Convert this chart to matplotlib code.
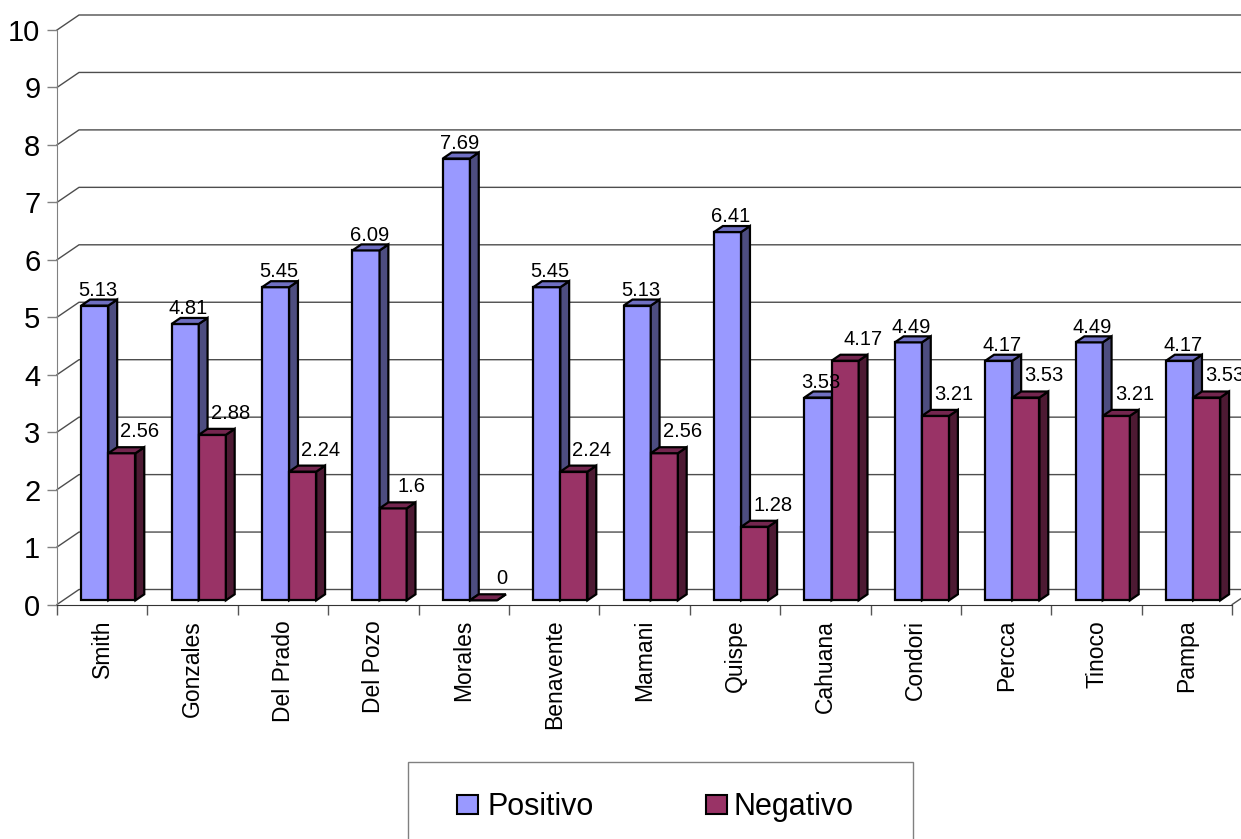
import matplotlib.pyplot as plt
from matplotlib.patches import Polygon, Rectangle

plt.rcParams['font.family'] = ['Liberation Sans', 'DejaVu Sans']

# data
nombres = ['Smith', 'Gonzales', 'Del Prado', 'Del Pozo', 'Morales', 'Benavente',
           'Mamani', 'Quispe', 'Cahuana', 'Condori', 'Percca', 'Tinoco', 'Pampa']
positivo = [5.13, 4.81, 5.45, 6.09, 7.69, 5.45, 5.13, 6.41, 3.53, 4.49, 4.17, 4.49, 4.17]
negativo = [2.56, 2.88, 2.24, 1.6, 0, 2.24, 2.56, 1.28, 4.17, 3.21, 3.53, 3.21, 3.53]
series = ['Positivo', 'Negativo']
y_ticks = list(range(0, 11))

# (front, side, top) shades of each series
colores = {'Positivo': ('#9999ff', '#4d4d80', '#6f6fc2'),
           'Negativo': ('#993366', '#4d1a33', '#74264f')}

W, H = 1241, 839
SX, SY = 90.4, 57.45        # pixels per category / per unit
X0, Y0 = 57, 604.5          # origin of the front plane, px from top-left
DX, DY = 22 / SX, 15 / SY   # depth of the floor / wall
F0, F1 = 0.28, 0.68         # bar front and back as fraction of depth
BW = 0.3                    # bar width (categories)

fig = plt.figure(figsize=(W / 100, H / 100), dpi=100)
ax = fig.add_axes([0, 0, 1, 1])
ax.set_xlim(-X0 / SX, (W - X0) / SX)
ax.set_ylim(-(H - Y0) / SY, Y0 / SY)

n = len(nombres)
for s in ['top', 'right']:
    ax.spines[s].set_visible(False)
ax.spines['left'].set_position(('data', 0))
ax.spines['left'].set_bounds(0, 10)
ax.spines['left'].set_color('#808080')
ax.spines['bottom'].set_position(('data', 0))
ax.spines['bottom'].set_bounds(0, n)
ax.spines['bottom'].set_color('#333333')

ax.set_yticks(y_ticks)
ax.tick_params(axis='y', length=7, width=1, color='#808080', pad=5, labelsize=21)
ax.set_xticks(range(n + 1))
ax.set_xticklabels([])
ax.set_xticks([i + 0.5 for i in range(n)], minor=True)
ax.set_xticklabels(nombres, minor=True, rotation=90, fontsize=16.5, va='top')
ax.tick_params(axis='x', which='major', length=7, width=1, color='#555555')
ax.tick_params(axis='x', which='minor', length=0, pad=11)

# back wall gridlines and floor
for v in y_ticks:
    ax.plot([0, DX, n + DX], [v, v + DY, v + DY], color='#4d4d4d', lw=1, zorder=1)
ax.plot([n, n + DX], [0, DY], color='#4d4d4d', lw=1, zorder=1)

bdx, bdy = (F1 - F0) * DX, (F1 - F0) * DY
y0 = F0 * DY
for s, (name, vals) in enumerate(zip(series, [positivo, negativo])):
    front, side, top = colores[name]
    xs = [i + 0.2 + BW * s + F0 * DX for i in range(n)]
    z = 3 + s
    ax.bar(xs, vals, width=BW, bottom=y0, align='edge', color=front,
           edgecolor='black', lw=1.6, zorder=z)
    for x, v in zip(xs, vals):
        ax.add_patch(Polygon([(x + BW, y0), (x + BW + bdx, y0 + bdy),
                              (x + BW + bdx, y0 + v + bdy), (x + BW, y0 + v)],
                             closed=True, facecolor=side, edgecolor='black',
                             lw=1.6, zorder=z))
        ax.add_patch(Polygon([(x, y0 + v), (x + BW, y0 + v),
                              (x + BW + bdx, y0 + v + bdy), (x + bdx, y0 + v + bdy)],
                             closed=True, facecolor=top, edgecolor='black',
                             lw=1.6, zorder=z))
        if s == 0:
            ax.text(x + BW / 2 + 0.035, y0 + v + 0.17, '{:g}'.format(v),
                    ha='center', va='baseline', fontsize=14.5, zorder=10)
        else:
            ax.text(x + BW / 2 + 0.2, y0 + v + 0.28, '{:g}'.format(v),
                    ha='center', va='baseline', fontsize=14.5, zorder=10)

# legend box, partly cut by the bottom edge
ax.add_patch(Rectangle((408 / W, -0.05), (913 - 408) / W, 1 - 762 / H + 0.05,
                       transform=ax.transAxes, facecolor='white',
                       edgecolor='#808080', lw=1, zorder=20, clip_on=False))
for name, hx, tx in zip(series, [457, 706], [488, 734]):
    ax.add_patch(Rectangle((hx / W, 1 - 814 / H), 21 / W, 19 / H,
                           transform=ax.transAxes, facecolor=colores[name][0],
                           edgecolor='black', lw=1.5, zorder=21))
    ax.text(tx / W, 1 - 815 / H, name, transform=ax.transAxes, fontsize=22,
            va='baseline', ha='left', zorder=21)

fig.savefig('out.png', dpi=100)
